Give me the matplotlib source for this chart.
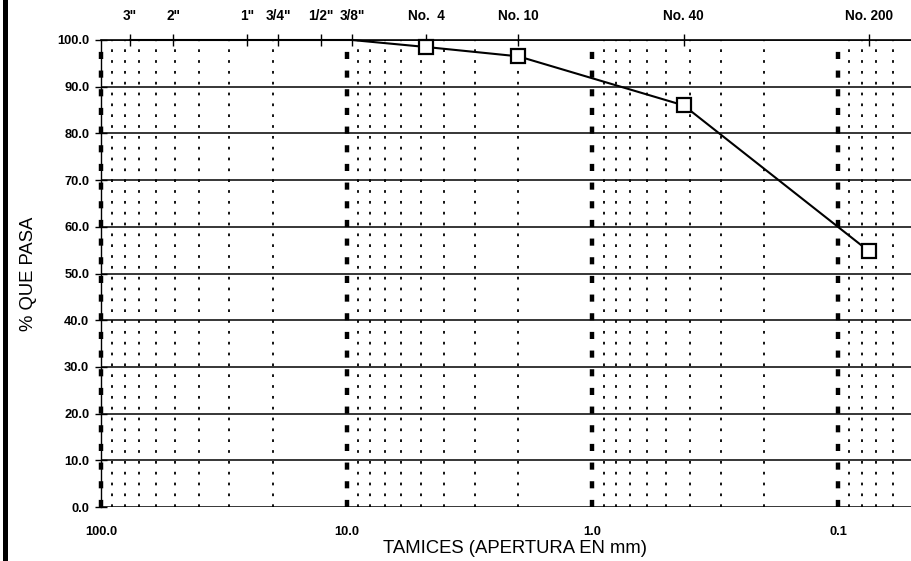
import matplotlib
matplotlib.use("Agg")
import matplotlib.pyplot as plt
import numpy as np

plt.rcParams['font.family'] = ['Liberation Sans', 'DejaVu Sans']

# tamices y porcentaje que pasa
sieve_names = ['3"', '2"', '1"', '3/4"', '1/2"', '3/8"', 'No.  4', 'No. 10', 'No. 40', 'No. 200']
sieve_mm = [76.2, 50.8, 25.4, 19.05, 12.7, 9.525, 4.75, 2.0, 0.425, 0.075]
pct_pass = [100.0, 100.0, 100.0, 100.0, 100.0, 100.0, 98.5, 96.5, 86.0, 54.8]

y_ticks = [0, 10, 20, 30, 40, 50, 60, 70, 80, 90, 100]
x_decades = [100.0, 10.0, 1.0, 0.1]
x_labels = ['100.0', '10.0', '1.0', '0.1']

fig = plt.figure(figsize=(9.11, 5.61), dpi=100)
ax = fig.add_axes([101/911, 1 - 507/561, (912 - 101)/911, (507 - 40)/561])
ax.set_xscale('log')
ax.set_xlim(100, 0.05)
ax.set_ylim(0, 100)

# lineas verticales menores (punteadas)
for d in [100.0, 10.0, 1.0]:
    for k in range(2, 10):
        ax.axvline(d * k / 10.0, color='black', lw=1.3, ls=(0, (1.5, 4.5)), zorder=1)
for k in range(5, 10):
    ax.axvline(k / 100.0, color='black', lw=1.3, ls=(0, (1.5, 4.5)), zorder=1)
# lineas de decada (gruesas)
for d in x_decades:
    ax.axvline(d, color='black', lw=3.2, ls=(0, (1.6, 2.6)), zorder=1, clip_on=False)

# lineas horizontales
for yv in y_ticks:
    ax.axhline(yv, color='black', lw=1.1, zorder=1)

# curva granulometrica
marks = [i for i, p in enumerate(pct_pass) if p < 100]
ax.plot(sieve_mm, pct_pass, color='black', lw=1.5, marker='s', markersize=9.5,
        markerfacecolor='white', markeredgecolor='black', markeredgewidth=1.6,
        markevery=marks, zorder=3, clip_on=False)

for s in ['top', 'right', 'bottom']:
    ax.spines[s].set_visible(False)
ax.spines['left'].set_linewidth(1.0)

ax.set_yticks(y_ticks)
ax.set_yticklabels(['%.1f' % v for v in y_ticks])
ax.set_xticks(x_decades)
ax.set_xticklabels(x_labels)
ax.xaxis.set_minor_locator(matplotlib.ticker.NullLocator())
ax.tick_params(axis='y', direction='inout', length=9, width=1.0, labelsize=9.3, pad=4)
ax.tick_params(axis='x', length=0, labelsize=9.3, pad=14)
for lab in ax.get_xticklabels() + ax.get_yticklabels():
    lab.set_fontweight('bold')

# eje superior con los tamices
top = ax.secondary_xaxis('top')
top.set_xticks(sieve_mm)
top.set_xticklabels(sieve_names)
top.xaxis.set_minor_locator(matplotlib.ticker.NullLocator())
top.tick_params(direction='inout', length=8, width=1.0, labelsize=9.8, pad=8)
top.spines['top'].set_linewidth(1.2)
for lab in top.get_xticklabels():
    lab.set_fontweight('bold')

ax.set_ylabel('% QUE PASA', fontsize=13.3)
ax.yaxis.set_label_coords(-64/811, 0.5)
ax.set_xlabel('TAMICES (APERTURA EN mm)', fontsize=13.3)
ax.xaxis.set_label_coords((515 - 101)/811, -33/467)

# barra negra del borde izquierdo (escaneo)
fig.add_artist(plt.Line2D([4.5/911, 4.5/911], [0, 1], color='black', lw=3.6))

fig.savefig('out.png', dpi=100)
